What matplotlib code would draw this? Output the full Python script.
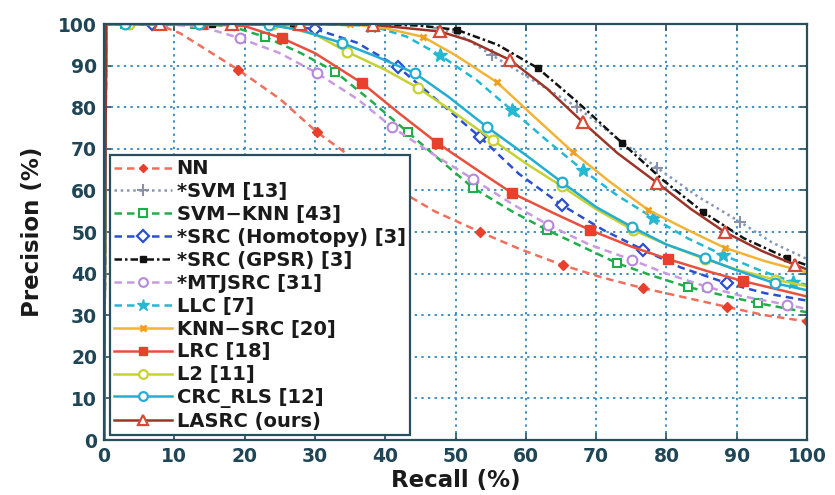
import matplotlib
matplotlib.use("Agg")
import matplotlib.pyplot as plt

plt.rcParams['font.family'] = ['DejaVu Sans']

# ---------------- data (recall %, precision %) ----------------
labels = ["NN", "*SVM [13]", "SVM\u2212KNN [43]", "*SRC (Homotopy) [3]", "*SRC (GPSR) [3]",
          "*MTJSRC [31]", "LLC [7]", "KNN\u2212SRC [20]", "LRC [18]", "L2 [11]",
          "CRC_RLS [12]", "LASRC (ours)"]

nn_x = [0, 0.3, 7.5, 10.8, 19.1, 25, 30.3, 36, 41.5, 47, 53.5, 59, 65.3, 71, 76.7, 82, 88.6, 94, 100]
nn_y = [0, 100, 100, 97.8, 89, 82, 74, 67, 60.5, 55, 50, 46, 42, 39, 36.5, 34.5, 32, 30, 28.5]
nn_m = [2, 4, 6, 8, 10, 12, 14, 16, 18]

svm_x = [0, 0.3, 4, 44, 50, 55.2, 61, 67.3, 73, 78.7, 84.5, 90.5, 95, 100]
svm_y = [0, 100, 100, 100, 98, 92.5, 86.5, 80, 72.5, 65.4, 58.5, 52.4, 47.5, 43.5]
svm_m = [2, 5, 7, 9, 11]

svmknn_x = [0, 0.3, 3, 13, 18, 22.9, 28, 32.9, 38, 43.2, 48, 52.5, 58, 63, 68, 73, 78, 83, 88, 93, 100]
svmknn_y = [0, 100, 100, 100, 99.5, 96.9, 93, 88.5, 81.5, 74, 67, 60.6, 55, 50.5, 46.5, 42.5, 39.5, 36.8, 34.8, 32.9, 30.7]
svmknn_m = [2, 3, 5, 7, 9, 11, 13, 15, 17, 19]

homo_x = [0, 0.3, 6.8, 18.5, 25, 30, 36, 41.8, 47.5, 53.5, 59, 65.1, 71, 76.7, 82, 88.6, 94, 100]
homo_y = [0, 100, 100, 100, 99.7, 98.8, 95.5, 89.7, 81.5, 72.8, 64, 56.5, 50.5, 45.7, 41.5, 37.7, 35.3, 33.5]
homo_m = [2, 3, 5, 7, 9, 11, 13, 15]

gpsr_x = [0, 0.3, 3.7, 15.3, 26.9, 38.6, 45, 50.2, 56, 61.7, 67.5, 73.7, 79.5, 85.2, 91, 97.2, 100]
gpsr_y = [0, 100, 100, 100, 100, 100, 99.6, 98.6, 95, 89.4, 81, 71.4, 62.5, 54.8, 48.5, 43.7, 42]
gpsr_m = [2, 3, 4, 5, 7, 9, 11, 13, 15]

mtj_x = [0, 0.3, 8.3, 14, 19.3, 25, 30.3, 36, 41, 47, 52.5, 58, 63.2, 69, 75.1, 80, 85.8, 91, 97.2, 100]
mtj_y = [0, 100, 100, 99.3, 96.6, 93, 88.2, 82, 75.2, 68.5, 62.7, 56.8, 51.7, 47, 43.3, 40, 36.8, 34.5, 32.5, 31.5]
mtj_m = [2, 4, 6, 8, 10, 12, 14, 16, 18]

llc_x = [0, 0.3, 8, 18, 28, 38, 43, 47.8, 53, 58, 63, 68.1, 73, 78.1, 83, 88, 93, 98, 100]
llc_y = [0, 100, 100, 100, 100, 99.6, 97, 92.5, 86.5, 79.3, 72, 64.9, 58.8, 53.4, 48.5, 44.5, 41, 38, 37.3]
llc_m = [5, 7, 9, 11, 13, 15, 17]

knn_x = [0, 0.3, 35, 40, 45.4, 50, 55.9, 61, 66.7, 72, 77.4, 83, 88.3, 94, 100]
knn_y = [0, 100, 100, 99, 96.9, 92.5, 86, 78, 69.2, 62, 55.3, 50.5, 46.2, 43, 40.3]
knn_m = [2, 4, 6, 8, 10, 12]

lrc_x = [0, 0.3, 14, 20, 25.3, 30, 36.7, 42, 47.4, 53, 58, 64, 69.1, 75, 80.2, 86, 90.9, 100]
lrc_y = [0, 100, 100, 99.5, 96.6, 93, 85.8, 78.5, 71.4, 65, 59.4, 54.5, 50.5, 46.5, 43.5, 40.5, 38.2, 34.5]
lrc_m = [2, 4, 6, 8, 10, 12, 14, 16]

l2_x = [0, 0.3, 3.5, 14, 24, 30, 34.6, 40, 44.7, 50, 55.3, 60, 65.1, 70, 75.2, 80, 85.5, 90, 95.5, 100]
l2_y = [0, 100, 100, 100, 100, 97.5, 93.3, 89, 84.6, 78.5, 72.1, 66.5, 61, 55.5, 50.5, 47, 43.5, 41, 38.5, 37]
l2_m = [2, 4, 6, 8, 10, 12, 14, 16, 18]

crc_x = [0, 0.3, 3, 13.5, 23.5, 28, 33.9, 39, 44.2, 49, 54.5, 60, 65.1, 70, 75.1, 80, 85.5, 90, 95.4, 100]
crc_y = [0, 100, 100, 100, 99.8, 98.5, 95.4, 92, 88.2, 82.5, 75.2, 68.5, 62, 56, 51.2, 47, 43.7, 40.8, 37.7, 36]
crc_m = [2, 3, 4, 6, 8, 10, 12, 14, 16, 18]

las_x = [0, 0.3, 8, 18.2, 27.9, 38.3, 47.8, 52, 57.8, 63, 68.1, 73, 78.7, 83.5, 88.3, 93.5, 98.3, 100]
las_y = [0, 100, 100, 100, 100, 99.8, 98.2, 96, 91.3, 84.5, 76.4, 69, 61.8, 55.5, 50, 45.5, 42.1, 41]
las_m = [2, 3, 4, 5, 6, 8, 10, 12, 14, 16]

series = [
    (nn_x, nn_y, nn_m, dict(color='#ef6e5c', ls=(0, (3, 2)), marker='D', ms=5, mfc='#e8402c', mec='#e8402c')),
    (svm_x, svm_y, svm_m, dict(color='#8595b5', ls=(0, (1, 1.5)), marker='+', ms=9, mew=1.5, mec='#8a90a8')),
    (svmknn_x, svmknn_y, svmknn_m, dict(color='#1fae4a', ls=(0, (3, 2)), marker='s', ms=6, mfc='white', mec='#1fae4a', mew=1.5)),
    (homo_x, homo_y, homo_m, dict(color='#2a4fd0', ls=(0, (3, 2)), marker='D', ms=6.5, mfc='white', mec='#2a4fd0', mew=1.6)),
    (gpsr_x, gpsr_y, gpsr_m, dict(color='#111111', ls=(0, (3, 1.2, 1, 1.2)), marker='s', ms=4.5, mfc='#111111', mec='#111111')),
    (mtj_x, mtj_y, mtj_m, dict(color='#c99ae2', ls=(0, (3, 2)), marker='o', ms=7, mfc='white', mec='#b888dc', mew=1.5)),
    (llc_x, llc_y, llc_m, dict(color='#24b8d2', ls=(0, (3, 2)), marker='*', ms=10, mfc='#24b8d2', mec='#24b8d2')),
    (knn_x, knn_y, knn_m, dict(color='#f2b438', ls='-', marker='x', ms=5, mew=2, mec='#f0a020')),
    (lrc_x, lrc_y, lrc_m, dict(color='#e8503e', ls='-', marker='s', ms=6.5, mfc='#e8402c', mec='#e8402c')),
    (l2_x, l2_y, l2_m, dict(color='#c6d232', ls='-', marker='o', ms=7, mfc='white', mec='#c6d232', mew=1.6)),
    (crc_x, crc_y, crc_m, dict(color='#22aed2', ls='-', marker='o', ms=7, mfc='white', mec='#22aed2', mew=1.6)),
    (las_x, las_y, las_m, dict(color='#9c3528', ls='-', marker='^', ms=8, mfc='white', mec='#d84a38', mew=1.6)),
]

fig = plt.figure(figsize=(8.35, 4.95), dpi=100)
ax = fig.add_axes([0.1246, 0.1111, 0.8419, 0.8404])

for (x, y, m, st), lab in zip(series, labels):
    ax.plot(x, y, lw=1.8, markevery=m, label=lab, **st)

ax.set_xlim(0, 100)
ax.set_ylim(0, 100)
ax.set_xticks(range(0, 101, 10))
ax.set_yticks(range(0, 101, 10))
ax.grid(True, color='#3f8fc0', ls=(0, (1.2, 2.2)), lw=1.4)
ax.set_axisbelow(True)

frame_c = '#27505e'
for s in ax.spines.values():
    s.set_color(frame_c)
    s.set_linewidth(1.6)
ax.tick_params(direction='in', length=5, width=1.2, color=frame_c, pad=5,
               labelsize=13.5, labelcolor='#1f4656', top=True, right=True)
for t in ax.get_xticklabels() + ax.get_yticklabels():
    t.set_fontweight('bold')

ax.set_xlabel('Recall (%)', fontsize=16.5, fontweight='bold', color='#1a1a1a', labelpad=2)
ax.set_ylabel('Precision (%)', fontsize=16.5, fontweight='bold', color='#1a1a1a', labelpad=10)

leg = ax.legend(loc='lower left', bbox_to_anchor=(0.008, 0.012),
                prop=dict(size=14, weight='bold'),
                frameon=True, fancybox=False, edgecolor=frame_c, framealpha=1,
                handlelength=3.0, labelspacing=0.2, borderpad=0.2,
                handletextpad=0.25, borderaxespad=0, markerscale=0.9)
leg.get_frame().set_linewidth(1.6)
for t in leg.get_texts():
    t.set_color('#1a1a1a')

fig.savefig('out.png', dpi=100)
